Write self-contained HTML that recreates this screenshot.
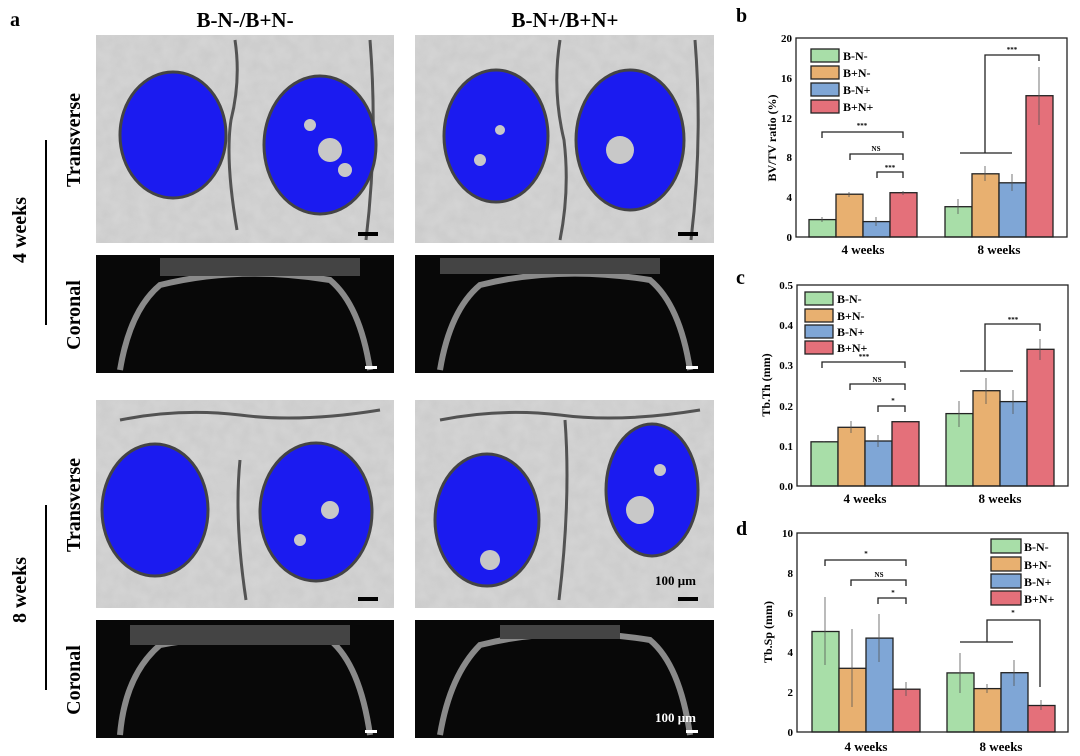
<!DOCTYPE html>
<html><head><meta charset="utf-8"><style>
body{margin:0;background:#fff;}
svg{display:block;font-family:"Liberation Serif",serif;font-weight:bold;}
</style></head><body>
<svg width="1080" height="756" viewBox="0 0 1080 756" xmlns="http://www.w3.org/2000/svg">
<defs>
<filter id="tex" x="0" y="0" width="1" height="1"><feTurbulence type="fractalNoise" baseFrequency="0.08" numOctaves="2" seed="3"/><feColorMatrix type="matrix" values="0 0 0 0 0.55  0 0 0 0 0.55  0 0 0 0 0.55  0 0 0 -1.2 1"/><feComposite in2="SourceGraphic" operator="in"/></filter>
</defs>
<text x="10" y="26" font-size="20">a</text>
<text x="245" y="27" font-size="21" text-anchor="middle">B-N-/B+N-</text>
<text x="565" y="27" font-size="21" text-anchor="middle">B-N+/B+N+</text>
<g font-size="20" text-anchor="middle">
<text transform="translate(80,140) rotate(-90)">Transverse</text>
<text transform="translate(80,315) rotate(-90)">Coronal</text>
<text transform="translate(80,505) rotate(-90)">Transverse</text>
<text transform="translate(80,680) rotate(-90)">Coronal</text>
<text transform="translate(26,230) rotate(-90)">4 weeks</text>
<text transform="translate(26,590) rotate(-90)">8 weeks</text>
</g>
<line x1="46" y1="140" x2="46" y2="325" stroke="#000" stroke-width="2"/>
<line x1="46" y1="505" x2="46" y2="690" stroke="#000" stroke-width="2"/>
<g>
<rect x="96" y="35" width="298" height="208" fill="#d4d4d4"/>
<rect x="96" y="35" width="298" height="208" fill="#fff" filter="url(#tex)" opacity="0.6"/>
<rect x="415" y="35" width="299" height="208" fill="#d4d4d4"/>
<rect x="415" y="35" width="299" height="208" fill="#fff" filter="url(#tex)" opacity="0.6"/>
<rect x="96" y="400" width="298" height="208" fill="#d4d4d4"/>
<rect x="96" y="400" width="298" height="208" fill="#fff" filter="url(#tex)" opacity="0.6"/>
<rect x="415" y="400" width="299" height="208" fill="#d4d4d4"/>
<rect x="415" y="400" width="299" height="208" fill="#fff" filter="url(#tex)" opacity="0.6"/>
</g>
<g fill="none" stroke="#333" stroke-width="3" opacity="0.8">
<path d="M235 40 q6 40 -4 80 q-6 40 6 110"/><path d="M560 40 q-8 50 4 100 q6 50 -4 100"/>
<path d="M120 420 q60 -12 120 -5 q60 8 140 -5"/><path d="M440 420 q60 -12 120 -5 q60 8 140 -5"/>
<path d="M240 460 q-6 60 6 140"/><path d="M565 420 q6 80 -6 180"/>
<path d="M370 40 q8 100 -4 200"/><path d="M695 40 q8 100 -4 200"/>
</g>
<g fill="#1b1bf0" stroke="#444" stroke-width="3">
<ellipse cx="173" cy="135" rx="53" ry="63"/><ellipse cx="320" cy="145" rx="56" ry="69"/>
<ellipse cx="496" cy="136" rx="52" ry="66"/><ellipse cx="630" cy="140" rx="54" ry="70"/>
<ellipse cx="155" cy="510" rx="53" ry="66"/><ellipse cx="316" cy="512" rx="56" ry="69"/>
<ellipse cx="487" cy="520" rx="52" ry="66"/><ellipse cx="652" cy="490" rx="46" ry="66"/>
</g>
<g fill="#c8c8c8">
<circle cx="330" cy="150" r="12"/><circle cx="310" cy="125" r="6"/><circle cx="345" cy="170" r="7"/>
<circle cx="620" cy="150" r="14"/><circle cx="500" cy="130" r="5"/><circle cx="480" cy="160" r="6"/>
<circle cx="330" cy="510" r="9"/><circle cx="300" cy="540" r="6"/>
<circle cx="490" cy="560" r="10"/><circle cx="640" cy="510" r="14"/><circle cx="660" cy="470" r="6"/>
</g>
<rect x="96" y="255" width="298" height="118" fill="#080808"/>
<rect x="415" y="255" width="299" height="118" fill="#080808"/>
<rect x="96" y="620" width="298" height="118" fill="#080808"/>
<rect x="415" y="620" width="299" height="118" fill="#080808"/>
<g fill="none" stroke="#8a8a8a" stroke-width="6">
<path d="M120 370 q10 -60 40 -85 q80 -20 170 -5 q30 25 40 90"/>
<path d="M440 370 q10 -60 40 -85 q80 -20 170 -5 q30 25 40 90"/>
<path d="M120 735 q5 -60 40 -90 q80 -15 170 -5 q30 25 40 95"/>
<path d="M440 735 q10 -60 40 -90 q80 -20 170 -5 q30 25 40 95"/>
</g>
<g fill="#444"><rect x="160" y="258" width="200" height="18"/><rect x="440" y="258" width="220" height="16"/><rect x="130" y="625" width="220" height="20"/><rect x="500" y="625" width="120" height="14"/></g>
<g fill="#000"><rect x="358" y="232" width="20" height="4"/><rect x="678" y="232" width="20" height="4"/><rect x="358" y="597" width="20" height="4"/><rect x="678" y="597" width="20" height="4"/></g>
<g fill="#fff"><rect x="365" y="366" width="12" height="3"/><rect x="686" y="366" width="12" height="3"/><rect x="365" y="730" width="12" height="3"/><rect x="686" y="730" width="12" height="3"/></g>
<text x="655" y="585" font-size="13">100 μm</text>
<text x="655" y="722" font-size="13" fill="#fff">100 μm</text>

<!-- chart b -->
<text x="736" y="22" font-size="20">b</text>
<g stroke="#222" stroke-width="1.3">
<rect x="809" y="219.6" width="27" height="17.4" fill="#a8dea8"/><rect x="836" y="194.2" width="27" height="42.8" fill="#e8b070"/><rect x="863" y="221.6" width="27" height="15.4" fill="#7fa6d6"/><rect x="890" y="192.7" width="27" height="44.3" fill="#e4707a"/>
<rect x="945" y="206.7" width="27" height="30.3" fill="#a8dea8"/><rect x="972" y="173.8" width="27" height="63.2" fill="#e8b070"/><rect x="999" y="182.8" width="27" height="54.2" fill="#7fa6d6"/><rect x="1026" y="95.7" width="27" height="141.3" fill="#e4707a"/>
</g>
<g stroke="#555" stroke-width="0.8" fill="none">
<path d="M822 217v5M849 192v5M876 217v9M903 191v4M958 199v15M985 166v15M1012 174v17M1039 67v58"/>
</g>
<rect x="796" y="38" width="271" height="199" fill="none" stroke="#222" stroke-width="1.3"/>
<g stroke="#222" stroke-width="1.3" fill="none">
<path d="M822 138v-6h81v6M850 160v-6h53v6M877 178v-6h26v6"/>
<path d="M960 153h52M985 153v-98h54v6"/>
</g>
<g font-size="7" text-anchor="middle"><text x="862" y="128">***</text><text x="876" y="151">NS</text><text x="890" y="170">***</text><text x="1012" y="52">***</text></g>
<g font-size="11" text-anchor="end"><text x="792" y="42">20</text><text x="792" y="82">16</text><text x="792" y="122">12</text><text x="792" y="161">8</text><text x="792" y="201">4</text><text x="792" y="241">0</text></g>
<text transform="translate(776,138) rotate(-90)" font-size="12" text-anchor="middle">BV/TV ratio (%)</text>
<g font-size="13" text-anchor="middle"><text x="863" y="254">4 weeks</text><text x="999" y="254">8 weeks</text></g>
<g stroke="#222" stroke-width="1.3"><rect x="811" y="49" width="28" height="13" fill="#a8dea8"/><rect x="811" y="66" width="28" height="13" fill="#e8b070"/><rect x="811" y="83" width="28" height="13" fill="#7fa6d6"/><rect x="811" y="100" width="28" height="13" fill="#e4707a"/></g>
<g font-size="12"><text x="843" y="60">B-N-</text><text x="843" y="77">B+N-</text><text x="843" y="94">B-N+</text><text x="843" y="111">B+N+</text></g>

<!-- chart c -->
<text x="736" y="284" font-size="20">c</text>
<g stroke="#222" stroke-width="1.3">
<rect x="811" y="441.8" width="27" height="44.2" fill="#a8dea8"/><rect x="838" y="427.3" width="27" height="58.7" fill="#e8b070"/><rect x="865" y="441" width="27" height="45" fill="#7fa6d6"/><rect x="892" y="421.7" width="27" height="64.3" fill="#e4707a"/>
<rect x="946" y="413.6" width="27" height="72.4" fill="#a8dea8"/><rect x="973" y="390.7" width="27" height="95.3" fill="#e8b070"/><rect x="1000" y="401.6" width="27" height="84.4" fill="#7fa6d6"/><rect x="1027" y="349.3" width="27" height="136.7" fill="#e4707a"/>
</g>
<g stroke="#555" stroke-width="0.8"><path d="M824 441v1M851 421v12M878 435v12M959 401v26M986 378v26M1013 390v24M1040 339v21"/></g>
<rect x="797" y="285" width="271" height="201" fill="none" stroke="#222" stroke-width="1.3"/>
<g stroke="#222" stroke-width="1.3" fill="none">
<path d="M822 368v-6h83v6M850 390v-6h55v6M878 412v-6h27v6M960 371h53M985 371v-47h55v7"/>
</g>
<g font-size="7" text-anchor="middle"><text x="864" y="359">***</text><text x="877" y="382">NS</text><text x="893" y="403">*</text><text x="1013" y="322">***</text></g>
<g font-size="11" text-anchor="end"><text x="793" y="289">0.5</text><text x="793" y="329">0.4</text><text x="793" y="369">0.3</text><text x="793" y="410">0.2</text><text x="793" y="450">0.1</text><text x="793" y="490">0.0</text></g>
<text transform="translate(770,385) rotate(-90)" font-size="12" text-anchor="middle">Tb.Th (mm)</text>
<g font-size="13" text-anchor="middle"><text x="865" y="503">4 weeks</text><text x="1000" y="503">8 weeks</text></g>
<g stroke="#222" stroke-width="1.3"><rect x="805" y="292" width="28" height="13" fill="#a8dea8"/><rect x="805" y="309" width="28" height="13" fill="#e8b070"/><rect x="805" y="325" width="28" height="13" fill="#7fa6d6"/><rect x="805" y="341" width="28" height="13" fill="#e4707a"/></g>
<g font-size="12"><text x="837" y="303">B-N-</text><text x="837" y="320">B+N-</text><text x="837" y="336">B-N+</text><text x="837" y="352">B+N+</text></g>

<!-- chart d -->
<text x="736" y="535" font-size="20">d</text>
<g stroke="#222" stroke-width="1.3">
<rect x="812" y="631.5" width="27" height="100.5" fill="#a8dea8"/><rect x="839" y="668.3" width="27" height="63.7" fill="#e8b070"/><rect x="866" y="638.1" width="27" height="93.9" fill="#7fa6d6"/><rect x="893" y="689.2" width="27" height="42.8" fill="#e4707a"/>
<rect x="947" y="672.9" width="27" height="59.1" fill="#a8dea8"/><rect x="974" y="688.6" width="27" height="43.4" fill="#e8b070"/><rect x="1001" y="672.7" width="27" height="59.3" fill="#7fa6d6"/><rect x="1028" y="705.5" width="27" height="26.5" fill="#e4707a"/>
</g>
<g stroke="#555" stroke-width="0.8"><path d="M825 597v68M852 629v78M879 614v48M906 682v14M960 653v40M987 684v9M1014 660v26M1041 700v10"/></g>
<rect x="797" y="533" width="271" height="199" fill="none" stroke="#222" stroke-width="1.3"/>
<g stroke="#222" stroke-width="1.3" fill="none">
<path d="M825 566v-6h81v6M851 586v-6h55v6M878 604v-6h28v6M960 642h53M987 642v-22h53v67"/>
</g>
<g font-size="7" text-anchor="middle"><text x="866" y="556">*</text><text x="879" y="577">NS</text><text x="893" y="595">*</text><text x="1013" y="615">*</text></g>
<g font-size="11" text-anchor="end"><text x="793" y="537">10</text><text x="793" y="577">8</text><text x="793" y="617">6</text><text x="793" y="656">4</text><text x="793" y="696">2</text><text x="793" y="736">0</text></g>
<text transform="translate(772,632) rotate(-90)" font-size="12" text-anchor="middle">Tb.Sp (mm)</text>
<g font-size="13" text-anchor="middle"><text x="866" y="751">4 weeks</text><text x="1001" y="751">8 weeks</text></g>
<g stroke="#222" stroke-width="1.3"><rect x="991" y="539" width="30" height="14" fill="#a8dea8"/><rect x="991" y="557" width="30" height="14" fill="#e8b070"/><rect x="991" y="574" width="30" height="14" fill="#7fa6d6"/><rect x="991" y="591" width="30" height="14" fill="#e4707a"/></g>
<g font-size="12"><text x="1024" y="551">B-N-</text><text x="1024" y="569">B+N-</text><text x="1024" y="586">B-N+</text><text x="1024" y="603">B+N+</text></g>
</svg>
</body></html>
